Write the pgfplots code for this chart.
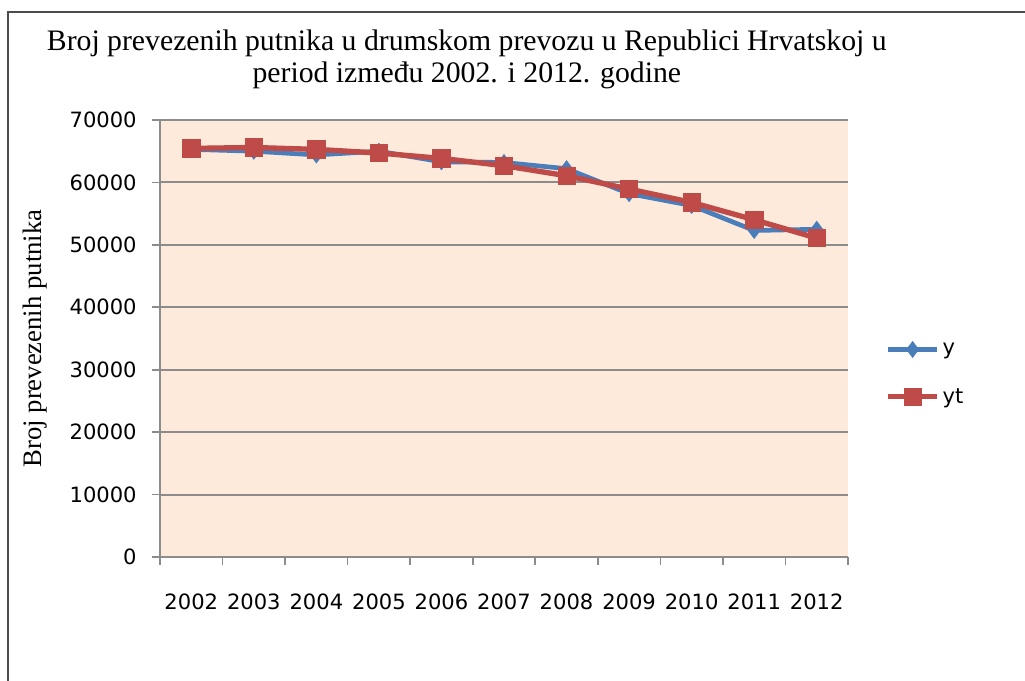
\documentclass[border=0pt]{standalone}
\usepackage{fontspec}
\setmainfont{Liberation Serif}
\newfontfamily\tickfont{DejaVu Sans}
\usepackage{pgfplots}
\pgfplotsset{compat=1.18}

\definecolor{ybl}{HTML}{4A7EBB}
\definecolor{ytr}{HTML}{BE4B48}
\definecolor{bgpeach}{HTML}{FDEADA}
\definecolor{gridg}{HTML}{8C8C8C}

\begin{document}
\begin{tikzpicture}
\useasboundingbox (0pt,0pt) rectangle (768.75pt,510.75pt);
\fill[white] (0pt,0pt) rectangle (768.75pt,510.75pt);
\draw[line width=1.5pt, black!70] (6pt,-2pt) -- (6pt,501.75pt) -- (772pt,501.75pt);
\begin{axis}[
    at={(120pt,93pt)}, anchor=south west,
    scale only axis,
    width=516pt, height=327.75pt,
    xmin=0.5, xmax=11.5,
    ymin=0, ymax=70000,
    axis lines=left,
    axis line style={-, gridg, line width=1.2pt},
    axis background/.style={fill=bgpeach},
    ytick={0,10000,...,70000},
    scaled y ticks=false,
    ymajorgrids,
    grid style={gridg, line width=1.4pt},
    xtick={0.5,1.5,...,11.5},
    xticklabels={},
    extra x ticks={1,...,11},
    extra x tick labels={2002,2003,2004,2005,2006,2007,2008,2009,2010,2011,2012},
    extra x tick style={major tick length=0pt, tick style={draw=none}},
    tick align=outside,
    major tick length=6pt,
    tick style={gridg, line width=1.2pt},
    /pgf/number format/assume math mode=true,
    /pgf/number format/1000 sep={},
    ticklabel style={font=\tickfont\fontsize{15.8}{18}\selectfont},
    xticklabel style={yshift=-24pt},
    yticklabel style={xshift=-8pt},
    title={Broj prevezenih putnika u drumskom prevozu u Republici Hrvatskoj u\\period između 2002. i 2012. godine},
    title style={at={(axis description cs:0.446,1.12)}, anchor=center, align=center,
        font=\fontsize{22.3}{24}\selectfont},
    ylabel={Broj prevezenih putnika},
    ylabel style={at={(axis description cs:-0.182,0.5)}, anchor=center,
        font=\fontsize{20}{24}\selectfont},
    legend style={at={(rel axis cs:1.048,0.419)}, anchor=west, draw=none, fill=none,
        font=\tickfont\fontsize{15.8}{18}\selectfont, row sep=20pt},
    legend cell align=left,
    legend image code/.code={
        \draw[mark repeat=2, mark phase=2] plot coordinates {(0cm,0cm) (0.65cm,0cm) (1.3cm,0cm)};
    },
]
\addplot[color=ybl, line width=3.5pt, mark=diamond*, mark size=6pt,
    mark options={fill=ybl, line width=0.5pt}] coordinates {
    (1,65300) (2,65000) (3,64400) (4,65000) (5,63300) (6,63200)
    (7,62200) (8,58200) (9,56300) (10,52300) (11,52500)
};
\addlegendentry{y}
\addplot[color=ytr, line width=4pt, mark=square*, mark size=6.5pt,
    mark options={fill=ytr, line width=0.5pt}] coordinates {
    (1,65450) (2,65600) (3,65290) (4,64710) (5,63850) (6,62680)
    (7,61070) (8,58940) (9,56800) (10,54020) (11,51080)
};
\addlegendentry{yt}
\end{axis}
\end{tikzpicture}
\end{document}
